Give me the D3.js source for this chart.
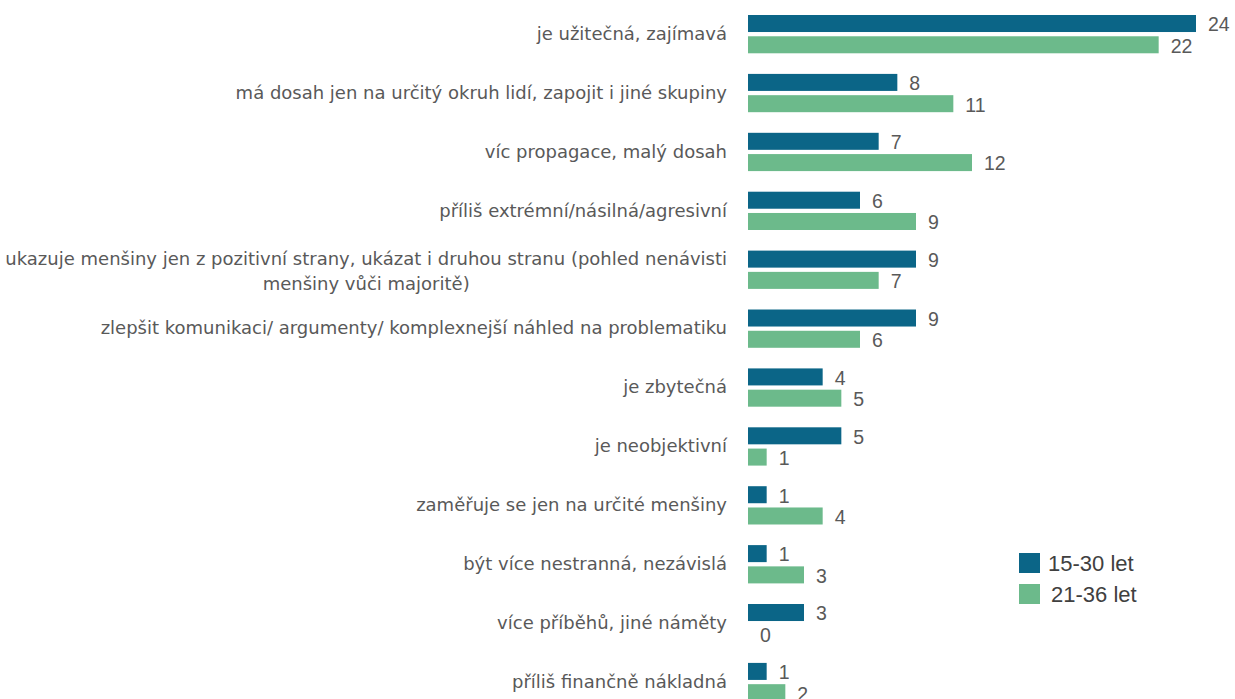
<!DOCTYPE html>
<html lang="cs">
<head>
<meta charset="UTF-8" />
<title>Hodnocení</title>
<script src="https://d3js.org/d3.v7.min.js"></script>
<style>
  body { margin: 0; background: #fff; }
  svg { display: block; }
  .tick text { fill: #595959; font-family: 'DejaVu Sans', sans-serif; font-size: 18px; }
  .val { fill: #595959; font-family: 'Liberation Sans', sans-serif; font-size: 19.5px; }
  .leg { fill: #404040; font-family: 'Liberation Sans', sans-serif; font-size: 22px; }
</style>
</head>
<body>
<svg id="chart" width="1235" height="699"></svg>
<script>
  const categories = [
    "je užitečná, zajímavá",
    "má dosah jen na určitý okruh lidí, zapojit i jiné skupiny",
    "víc propagace, malý dosah",
    "příliš extrémní/násilná/agresivní",
    "ukazuje menšiny jen z pozitivní strany, ukázat i druhou stranu (pohled nenávisti menšiny vůči majoritě)",
    "zlepšit komunikaci/ argumenty/ komplexnejší náhled na problematiku",
    "je zbytečná",
    "je neobjektivní",
    "zaměřuje se jen na určité menšiny",
    "být více nestranná, nezávislá",
    "více příběhů, jiné náměty",
    "příliš finančně nákladná"
  ];
  const series = ["15-30 let", "21-36 let"];
  const young = [24, 8, 7, 6, 9, 9, 4, 5, 1, 1, 3, 1];
  const older = [22, 11, 12, 9, 7, 6, 5, 1, 4, 3, 0, 2];
  const colors = ["#0b6587", "#6cba8b"];

  const svg = d3.select("#chart");
  const left = 748;

  const rows = categories.map((c, i) => ({ cat: c, vals: [young[i], older[i]] }));

  const x = d3.scaleLinear().domain([0, 24]).range([0, 448]);
  const y0 = d3.scaleBand().domain(categories).range([0, 12 * 58.9])
    .paddingInner(0.35).paddingOuter(0.175);
  const y1 = d3.scaleBand().domain(series).range([0, y0.bandwidth()]).paddingInner(0.2);

  const g = svg.append("g").attr("transform", `translate(${left},4.7)`);

  // category axis
  const axis = g.append("g")
    .call(d3.axisLeft(y0).tickSize(0).tickPadding(21));
  axis.select(".domain").remove();
  axis.selectAll(".tick text").call(wrap, 726);

  const grp = g.selectAll(".row")
    .data(rows)
    .enter().append("g")
    .attr("transform", d => `translate(0,${y0(d.cat)})`);

  grp.selectAll("rect")
    .data(d => d.vals.map((v, j) => ({ s: series[j], v, j })))
    .enter().append("rect")
    .attr("x", 0)
    .attr("y", d => y1(d.s))
    .attr("width", d => x(d.v))
    .attr("height", y1.bandwidth())
    .attr("fill", d => colors[d.j]);

  grp.selectAll(".val")
    .data(d => d.vals.map((v, j) => ({ s: series[j], v, j })))
    .enter().append("text")
    .attr("class", "val")
    .attr("x", d => x(d.v) + 12)
    .attr("y", d => y1(d.s) + y1.bandwidth() / 2 + 1)
    .attr("dy", "0.35em")
    .text(d => d.v);

  // legend
  const leg = svg.append("g").attr("transform", "translate(1019,553)");
  series.forEach((s, j) => {
    leg.append("rect").attr("x", 0).attr("y", j * 31).attr("width", 21).attr("height", 20).attr("fill", colors[j]);
    leg.append("text").attr("class", "leg").attr("x", 29 + j * 3).attr("y", j * 31 + 10).attr("dy", "0.35em").text(s);
  });

  // wrap long labels, lines centred on each other, block right-aligned
  function wrap(texts, width) {
    texts.each(function() {
      const text = d3.select(this);
      const words = text.text().split(/\s+/);
      const xr = +text.attr("x");
      text.text(null);
      let lines = [], line = [];
      let tspan = text.append("tspan");
      words.forEach(w => {
        line.push(w);
        tspan.text(line.join(" "));
        if (tspan.node().getComputedTextLength() > width && line.length > 1) {
          line.pop();
          lines.push(line.join(" "));
          line = [w];
        }
        tspan.text(line.join(" "));
      });
      lines.push(line.join(" "));
      text.text(null);
      if (lines.length === 1) {
        text.text(lines[0]);
        return;
      }
      const lh = 25;
      const spans = lines.map((l, k) => text.append("tspan")
        .attr("y", (k - (lines.length - 1) / 2) * lh + 1.5)
        .attr("dy", "0.32em")
        .text(l));
      const w = d3.max(spans, s => s.node().getComputedTextLength());
      text.attr("text-anchor", "middle");
      spans.forEach(s => s.attr("x", xr - w / 2));
    });
  }
</script>
</body>
</html>
